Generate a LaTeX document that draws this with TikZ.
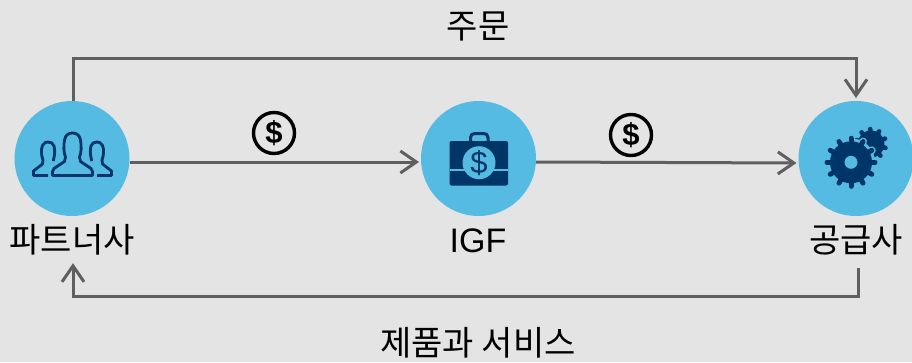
\documentclass[tikz,border=0pt]{standalone}
\usepackage{fontspec}
\setmainfont{Liberation Sans}
\newfontfamily\krfont{Noto Sans CJK KR}
\usetikzlibrary{arrows.meta,calc}
\definecolor{bgc}{HTML}{E4E4E4}
\definecolor{disc}{HTML}{56BBE2}
\definecolor{navy}{HTML}{003567}
\definecolor{linec}{HTML}{5F5F5F}
\tikzset{
  hub/.style={circle,fill=disc,minimum size=115pt,inner sep=0pt,outer sep=0pt},
  lbl/.style={inner sep=0pt,text height=26pt,text depth=4pt,font=\krfont\fontsize{34}{34}\selectfont,text=black},
  flow/.style={draw=linec,line width=3pt,-{Straight Barb[length=16pt,width=22pt,line width=3pt]},line join=miter},
  money/.style={circle,draw=black,line width=3.4pt,minimum size=41pt,inner sep=0pt,font=\fontsize{31}{31}\selectfont\bfseries,text=black},
  iconline/.style={draw=navy,line width=2.8pt,line join=round},
  tooth/.style={draw=navy,line cap=round,line width=5pt}
}
\begin{document}
\begin{tikzpicture}[x=1pt,y=-1pt]
\useasboundingbox[fill=bgc] (0,0) rectangle (912,362);
\node[hub] (partner) at (72,158.5) {};
\node[hub] (igf) at (478.5,158.5) {};
\node[hub] (supplier) at (856,158.5) {};
\node[lbl] (partnerl) at (72,241) {파트너사};
\node[lbl,font=\fontsize{34}{34}\selectfont] (igfl) at (478,241) {IGF};
\node[lbl] (supplierl) at (856,241) {공급사};
\node[lbl] (orderl) at (478,27) {주문};
\node[lbl] (goodsl) at (478,344) {제품과 서비스};
\node[money] (m1) at (274,133) {\$};
\node[money] (m2) at (631,135) {\$};
% connectors
\draw[flow,shorten >=3pt] ($(partner.north)+(1,0)$) -- ($(partner.north)+(1,-43)$) -- ($(supplier.north)+(0,-43)$) -- (supplier.north);
\draw[flow,shorten >=2pt] ($(partner.east)+(0,3.5)$) -- ($(igf.west)+(0,3.5)$);
\draw[flow,shorten >=2pt] ($(igf.east)+(0,3.5)$) -- ($(supplier.west)+(0,4.5)$);
\draw[flow] ($(supplierl.south)+(2,12)$) -- ($(supplierl.south)+(2,40)$) -- ($(partnerl.south)+(1,40)$) -- ($(partnerl.south)+(1,7)$);
% people icon
\draw[iconline] (52.5,175.5) -- (52.5,171.5) -- (54,168.5) -- (64.5,161.5) -- (65.5,157)
  .. controls (63.5,152) and (63.5,146) .. (64.5,140)
  .. controls (65.5,134.5) and (69,133) .. (72.5,133)
  .. controls (76,133) and (79.5,134.5) .. (80.5,140)
  .. controls (81.5,146) and (81.5,152) .. (79.5,157)
  -- (80.5,161.5) -- (91,168.5) -- (92.5,171.5) -- (92.5,175.5) -- cycle;
\draw[iconline] (48,175.5) -- (33.5,175.5) -- (33.5,171) -- (42.5,164) -- (43,160)
  .. controls (41,155) and (41,149) .. (42.5,145.5)
  .. controls (44,142.5) and (46,142) .. (48,142)
  .. controls (51,142) and (53,143) .. (54,146)
  .. controls (55,150) and (55,154) .. (53.5,160) -- (53.5,161);
\draw[iconline] (97,175.5) -- (111.5,175.5) -- (111.5,171) -- (102.5,164) -- (102,160)
  .. controls (104,155) and (104,149) .. (102.5,145.5)
  .. controls (101,142.5) and (99,142) .. (97,142)
  .. controls (94,142) and (92,143) .. (91,146)
  .. controls (90,150) and (90,154) .. (91.5,160) -- (91.5,161);
% briefcase icon
\draw[navy,line width=3pt,rounded corners=4pt] (470.5,143) -- (470.5,133.5) -- (488,133.5) -- (488,143);
\fill[navy,rounded corners=2pt] (449.5,141) rectangle (508,185.5);
\fill[disc] (449.5,169) rectangle (508,171);
\fill[disc] (479,162.7) circle (16.5pt);
\node[inner sep=0pt,text=navy,font=\fontsize{31}{31}\selectfont] (bagd) at (479,162.7) {\$};
% small gear
\foreach \a in {0,36,...,324}{\draw[tooth,line width=4.6pt] (871,144) -- ++(\a+15:15);}
\fill[navy] (871,144) circle (13.5pt);
% halo of the large gear
\foreach \a in {0,30,...,330}{\draw[tooth,draw=disc,line width=8pt] (851,162.3) -- ++(\a:24);}
\fill[disc] (851,162.3) circle (24pt);
% large gear
\foreach \a in {0,30,...,330}{\draw[tooth] (851,162.3) -- ++(\a:24);}
\fill[navy] (851,162.3) circle (21pt);
\fill[disc] (851,162.3) circle (6.5pt);
\end{tikzpicture}
\end{document}
